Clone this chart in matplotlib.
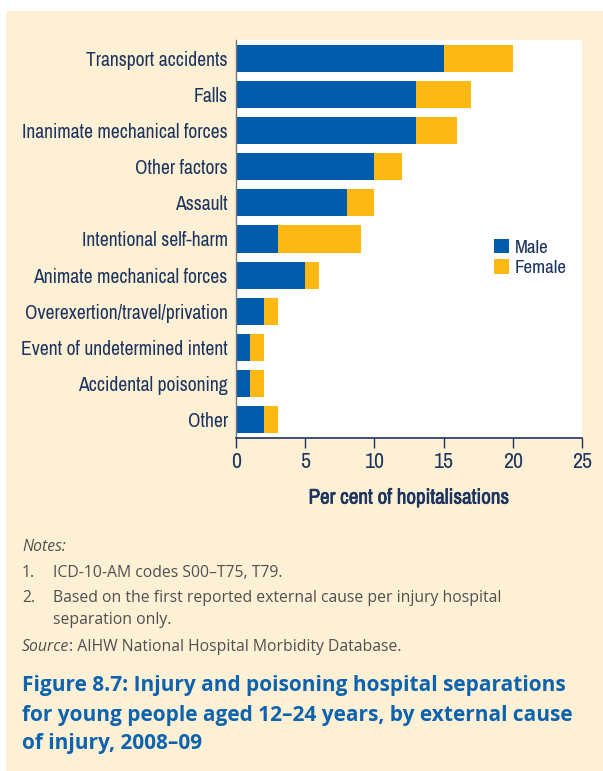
import matplotlib
matplotlib.use("Agg")
import matplotlib.pyplot as plt
from matplotlib.patches import Rectangle
from matplotlib import font_manager as fm
from matplotlib.font_manager import FontProperties
import matplotlib.patheffects as pe

categories = ["Transport accidents", "Falls", "Inanimate mechanical forces", "Other factors",
              "Assault", "Intentional self-harm", "Animate mechanical forces",
              "Overexertion/travel/privation", "Event of undetermined intent",
              "Accidental poisoning", "Other"]
male = [15, 13, 13, 10, 8, 3, 5, 2, 1, 1, 2]
female = [5, 4, 3, 2, 2, 6, 1, 1, 1, 1, 1]
xticks = [0, 5, 10, 15, 20, 25]

names = sorted({f.name for f in fm.fontManager.ttflist})

W, H = 603, 771
fig = plt.figure(figsize=(W/100, H/100), dpi=100, facecolor="white")

WMAP = {"ultralight": 200, "light": 300, "normal": 400, "regular": 400, "book": 400,
        "medium": 500, "semibold": 600, "demibold": 600, "bold": 700, "heavy": 800,
        "extra bold": 800, "black": 900}

def wnum(w):
    if isinstance(w, (int, float)):
        return int(w)
    return WMAP.get(str(w).lower(), 400)

def is_cond(path):
    low = path.lower()
    flat = low.replace("-", "").replace("_", "")
    return ("condensed" in low or "narrow" in low) and "semicondensed" not in flat \
        and "extra" not in low and "ultra" not in low

conds = [f for f in fm.fontManager.ttflist if f.style == "normal" and is_cond(f.fname)]

def measure(path, text, size):
    t = fig.text(0, 0, text, fontproperties=FontProperties(fname=path, size=size))
    fig.canvas.draw()
    w = t.get_window_extent().width
    t.remove()
    return w

if conds:
    PATH = min(conds, key=lambda f: (abs(wnum(f.weight) - 450), f.name)).fname
else:
    PATH = fm.findfont(FontProperties(family="Liberation Sans"))

wref = measure(PATH, "Inanimate mechanical forces", 14)
LFS = min(16.0, 14 * 206.0 / wref)
wb = measure(PATH, "Per cent of hopitalisations", 14)
XFS = 14 * 200.0 / wb

def lab(size):
    return FontProperties(fname=PATH, size=size)

body = "Open Sans" if "Open Sans" in names else "DejaVu Sans"

NAVY = "#1C3560"
BLUE = "#005BAA"
YELLOW = "#FDB813"
CREAM = "#FEF0D4"

bg = Rectangle((6/W, 0), 1, 1 - 11/H, transform=fig.transFigure,
               facecolor=CREAM, edgecolor="none", zorder=-10)
fig.add_artist(bg)

ax = fig.add_axes([236/W, 1-438/H, (582-236)/W, (438-40)/H])
ax.set_zorder(1)
ax.set_facecolor("white")
y = list(range(len(categories)))
ax.barh(y, male, height=0.75, color=BLUE, label="Male")
ax.barh(y, female, left=male, height=0.75, color=YELLOW, label="Female")
ax.set_ylim(len(categories)-0.5, -0.5)
ax.set_xlim(0, 25)
ax.set_xticks(xticks)
ax.set_xticklabels([str(v) for v in xticks], fontproperties=lab(LFS*1.12), color=NAVY)
ax.set_yticks(y)
ax.set_yticklabels(categories, fontproperties=lab(LFS), color=NAVY)
ax.tick_params(axis="y", length=0, pad=6)
ax.tick_params(axis="x", length=7, width=1, color=NAVY, pad=3, direction="out")
for s in ["top", "right"]:
    ax.spines[s].set_visible(False)
ax.spines["left"].set_color("#6F7785")
ax.spines["left"].set_linewidth(1)
ax.spines["bottom"].set_color(NAVY)
ax.spines["bottom"].set_linewidth(1.2)
xl = ax.set_xlabel("Per cent of hopitalisations", fontproperties=lab(XFS),
                   color=NAVY, labelpad=12)
xl.set_path_effects([pe.withStroke(linewidth=0.5, foreground=NAVY)])

leg = ax.legend(loc="upper left", bbox_to_anchor=(0.724, 0.52), frameon=False,
                prop=lab(LFS*0.97), handlelength=0.8, handleheight=0.8,
                handletextpad=0.3, labelspacing=0.2, borderaxespad=0)
for t in leg.get_texts():
    t.set_color(NAVY)

GREY = "#505050"
FS = 11.3
fig.text(22/W, 1-547/H, "Notes:", family=body, fontsize=FS, style="italic", color=GREY, va="center")
fig.text(22/W, 1-573/H, "1.", family=body, fontsize=FS, color=GREY, va="center")
fig.text(53/W, 1-573/H, "ICD-10-AM codes S00–T75, T79.", family=body, fontsize=FS, color=GREY, va="center")
fig.text(22/W, 1-598/H, "2.", family=body, fontsize=FS, color=GREY, va="center")
fig.text(53/W, 1-598/H, "Based on the first reported external cause per injury hospital",
         family=body, fontsize=FS, color=GREY, va="center")
fig.text(53/W, 1-620/H, "separation only.", family=body, fontsize=FS, color=GREY, va="center")
t1 = fig.text(22/W, 1-647/H, "Source", family=body, fontsize=FS, style="italic", color=GREY, va="center")
fig.canvas.draw()
bb = t1.get_window_extent()
fig.text(bb.x1/W, 1-647/H, ": AIHW National Hospital Morbidity Database.",
         family=body, fontsize=FS, color=GREY, va="center")
title_lines = ["Figure 8.7: Injury and poisoning hospital separations",
               "for young people aged 12–24 years, by external cause",
               "of injury, 2008–09"]
for line, yy in zip(title_lines, [686, 715, 744]):
    fig.text(22/W, 1-yy/H, line, family=body, fontsize=15.0, fontweight="bold",
             color="#0C63AE", va="center")

fig.savefig("out.png", dpi=100, facecolor="white")
